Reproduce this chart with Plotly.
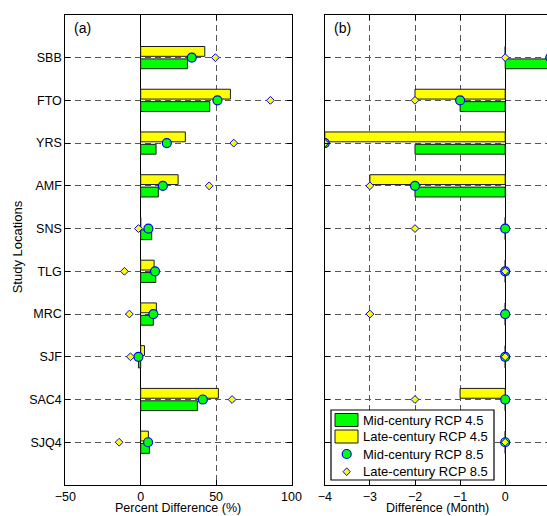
import plotly.graph_objects as go

locations = ["SBB", "FTO", "YRS", "AMF", "SNS", "TLG", "MRC", "SJF", "SAC4", "SJQ4"]

# (a) Percent difference (%)
pct_mid45 = [31.0, 45.8, 10.2, 11.7, 7.3, 10.0, 8.4, -1.5, 37.6, 5.8]
pct_late45 = [42.5, 59.5, 29.6, 24.8, 0.0, 8.9, 10.4, 2.5, 51.5, 5.1]
pct_mid85 = [33.9, 50.9, 17.3, 14.7, 5.1, 9.5, 8.4, -1.5, 41.2, 4.9]
pct_late85 = [49.5, 86.0, 61.7, 45.4, -1.5, -10.8, -7.5, -6.8, 60.6, -14.3]

# (b) Difference in timing (month)
mon_mid45 = [1, -1, -2, -2, 0, 0, 0, 0, 0, 0]
mon_late45 = [0, -2, -4, -3, 0, 0, 0, 0, -1, 0]
mon_mid85 = [1, -1, -4, -2, 0, 0, 0, 0, 0, 0]
mon_late85 = [0, -2, -4, -3, -2, 0, -3, 0, -2, 0]

series_names = ["Mid-century RCP 4.5", "Late-century RCP 4.5",
                "Mid-century RCP 8.5", "Late-century RCP 8.5"]

idx = list(range(len(locations)))

GREEN = "#00ff00"
YELLOW = "#ffff00"
BLUE = "#0000ff"
EDGE = "#1a1a1a"
FONT = "Liberation Sans, Arial, sans-serif"
W, H = 547, 516

fig = go.Figure()


def add_panel(xa, ya, mid45, late45, mid85, late85):
    fig.add_trace(go.Bar(
        x=mid45, y=idx, orientation="h", width=0.23, offset=0.03,
        marker=dict(color=GREEN, line=dict(color=EDGE, width=1)),
        name=series_names[0], showlegend=False, xaxis=xa, yaxis=ya))
    fig.add_trace(go.Bar(
        x=late45, y=idx, orientation="h", width=0.23, offset=-0.26,
        marker=dict(color=YELLOW, line=dict(color=EDGE, width=1)),
        name=series_names[1], showlegend=False, xaxis=xa, yaxis=ya))
    fig.add_trace(go.Scatter(
        x=mid85, y=idx, mode="markers",
        marker=dict(symbol="circle", size=9, color=GREEN, line=dict(color=BLUE, width=1.2)),
        name=series_names[2], showlegend=False, xaxis=xa, yaxis=ya))
    fig.add_trace(go.Scatter(
        x=late85, y=idx, mode="markers",
        marker=dict(symbol="diamond", size=6, color=YELLOW, line=dict(color=BLUE, width=1)),
        name=series_names[3], showlegend=False, xaxis=xa, yaxis=ya))


add_panel("x", "y", pct_mid45, pct_late45, pct_mid85, pct_late85)
add_panel("x2", "y2", mon_mid45, mon_late45, mon_mid85, mon_late85)

grid = dict(showgrid=True, gridcolor="#555555", gridwidth=1, griddash="6px,4px")
frame = dict(showline=True, linecolor="black", linewidth=1, ticks="inside",
             ticklen=5, tickcolor="black", automargin=False,
             tickfont=dict(size=12.5))

y_dom = [(H - 485) / H, (H - 15.3) / H]
y_rng = [10.0, -0.99]


def px(x):
    return x / W


def py(y):
    return (H - y) / H


# Legend key drawn in pixel-based paper coordinates
shapes = [
    dict(type="rect", xref="paper", yref="paper", x0=px(331), x1=px(494),
         y0=py(480), y1=py(410), fillcolor="white", line=dict(color="black", width=1.2)),
    dict(type="rect", xref="paper", yref="paper", x0=px(335), x1=px(358),
         y0=py(426.5), y1=py(413.5), fillcolor=GREEN, line=dict(color=EDGE, width=1)),
    dict(type="rect", xref="paper", yref="paper", x0=px(335), x1=px(358),
         y0=py(443), y1=py(430), fillcolor=YELLOW, line=dict(color=EDGE, width=1)),
    dict(type="circle", xref="paper", yref="paper", x0=px(342.2), x1=px(351.2),
         y0=py(458.5), y1=py(449.5), fillcolor=GREEN, line=dict(color=BLUE, width=1.2)),
    dict(type="path", xref="paper", yref="paper",
         path="M {a},{b} L {c},{d} L {a},{e} L {f},{d} Z".format(
             a=px(346.7), b=py(467.8), c=px(350.3), d=py(471.7), e=py(475.6), f=px(343.1)),
         fillcolor=YELLOW, line=dict(color=BLUE, width=1)),
]

legend_rows = [420.3, 436.7, 454.0, 471.7]
annotations = [
    dict(text=name, x=px(360.5), y=py(yy), xref="paper", yref="paper",
         xanchor="left", yanchor="middle", showarrow=False, font=dict(size=13))
    for name, yy in zip(series_names, legend_rows)
]
annotations += [
    dict(text="(a)", x=px(72), y=py(28), xref="paper", yref="paper",
         xanchor="left", yanchor="middle", showarrow=False, font=dict(size=14)),
    dict(text="(b)", x=px(332), y=py(28), xref="paper", yref="paper",
         xanchor="left", yanchor="middle", showarrow=False, font=dict(size=14)),
    dict(text="Percent Difference (%)", x=px(178.4), y=0,
         xref="paper", yref="paper", xanchor="center", yanchor="bottom",
         borderpad=0, showarrow=False, font=dict(size=12.5)),
    dict(text="Difference (Month)", x=px(437), y=0,
         xref="paper", yref="paper", xanchor="center", yanchor="bottom",
         borderpad=0, showarrow=False, font=dict(size=12.5)),
    dict(text="Study Locations", x=px(18.3), y=py(247),
         xref="paper", yref="paper", xanchor="center", yanchor="middle",
         textangle=-90, showarrow=False),
]

fig.update_layout(
    width=W, height=H, margin=dict(l=0, r=0, t=0, b=0),
    paper_bgcolor="white", plot_bgcolor="white",
    font=dict(family=FONT, size=13, color="black"),
    barmode="overlay", showlegend=False,
    xaxis=dict(domain=[px(65.3), px(291.5)], range=[-50, 100],
               tickvals=[-50, 0, 50, 100], anchor="y", mirror="ticks",
               zeroline=True, zerolinecolor="black", zerolinewidth=1,
               **grid, **frame),
    yaxis=dict(domain=y_dom, range=y_rng, tickvals=idx, ticktext=locations,
               anchor="x", mirror="ticks", zeroline=False, **grid, **frame),
    xaxis2=dict(domain=[px(324.8), 1.0], range=[-4, 0.927],
                tickvals=[-4, -3, -2, -1, 0, 1], anchor="y2", mirror="ticks",
                zeroline=True, zerolinecolor="black", zerolinewidth=1,
                **grid, **frame),
    yaxis2=dict(domain=y_dom, range=y_rng, tickvals=idx, showticklabels=False,
                anchor="x2", mirror=False, zeroline=False, **grid, **frame),
    shapes=shapes,
    annotations=annotations,
)

fig.write_html("out.html")
